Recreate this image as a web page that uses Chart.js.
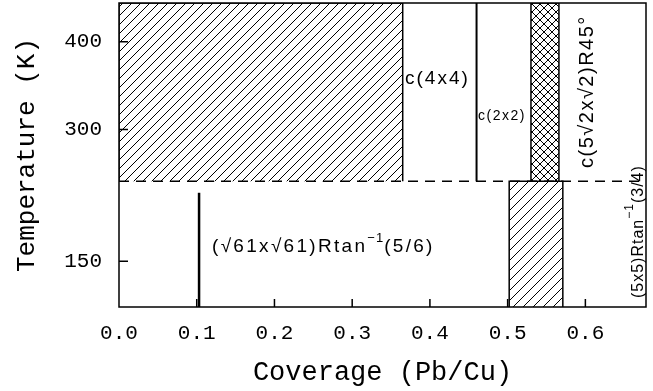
<!DOCTYPE html>
<html>
<head>
<meta charset="utf-8">
<script src="https://cdn.jsdelivr.net/npm/chart.js@4/dist/chart.umd.min.js"></script>
<style>
  html, body { margin: 0; padding: 0; background: #fff; }
  #wrap { width: 653px; height: 391px; }
</style>
</head>
<body>
<div id="wrap"><canvas id="phase"></canvas></div>
<script>
// axis ticks
const coverageTicks = [0, 0.1, 0.2, 0.3, 0.4, 0.5, 0.6];
const tempTicks = [150, 300, 400];
const coverageMax = 0.678;
const tempRange = [98, 444];

// phase boundaries
const boundaryT = 241;            // dashed line between the two temperature regimes
const hatchUpper = [0, 0.365];    // hatched region, high T
const c4x4Line = 0.46;            // c(4x4) line
const crossBand = [0.53, 0.566];  // c(5sqrt2 x sqrt2)R45 band
const hatchLower = [0.502, 0.571];// (5x5) region, low T
const root61Line = 0.103;         // (sqrt61 x sqrt61) line
const root61Top = 228;

function hatch(size, cross) {
  const c = document.createElement('canvas');
  c.width = size; c.height = size;
  const g = c.getContext('2d');
  g.strokeStyle = '#000';
  g.lineWidth = 1;
  g.beginPath();
  g.moveTo(0, size); g.lineTo(size, 0);
  g.moveTo(-1, 1); g.lineTo(1, -1);
  g.moveTo(size - 1, size + 1); g.lineTo(size + 1, size - 1);
  if (cross) {
    g.moveTo(0, 0); g.lineTo(size, size);
    g.moveTo(-1, size - 1); g.lineTo(1, size + 1);
    g.moveTo(size - 1, -1); g.lineTo(size + 1, 1);
  }
  g.stroke();
  return g.createPattern(c, 'repeat');
}

function rect(x0, x1, lo, hi) {
  return [{x: x0, y: lo}, {x: x0, y: hi}, {x: x1, y: hi}, {x: x1, y: lo}];
}

const base = { showLine: true, pointRadius: 0, borderColor: '#000', tension: 0 };

const datasets = [
  Object.assign({}, base, {
    data: rect(hatchUpper[0], hatchUpper[1], boundaryT, tempRange[1]),
    fill: {value: boundaryT}, backgroundColor: hatch(9, false), borderWidth: 1.5
  }),
  Object.assign({}, base, {
    data: rect(crossBand[0], crossBand[1], boundaryT, tempRange[1]),
    fill: {value: boundaryT}, backgroundColor: hatch(8, true), borderWidth: 1.5
  }),
  Object.assign({}, base, {
    data: rect(hatchLower[0], hatchLower[1], tempRange[0], boundaryT),
    fill: {value: tempRange[0]}, backgroundColor: hatch(10, false), borderWidth: 1.5
  }),
  Object.assign({}, base, {
    data: [{x: c4x4Line, y: boundaryT}, {x: c4x4Line, y: tempRange[1]}],
    fill: false, borderWidth: 2
  }),
  Object.assign({}, base, {
    data: [{x: root61Line, y: tempRange[0]}, {x: root61Line, y: root61Top}],
    fill: false, borderWidth: 2.5
  }),
  Object.assign({}, base, {
    data: [{x: 0, y: boundaryT}, {x: coverageMax, y: boundaryT}],
    fill: false, borderWidth: 1.5, borderDash: [10, 7]
  })
];

const sans = '"Liberation Sans", Arial, sans-serif';

function drawParts(ctx, parts, x, y) {
  for (const p of parts) {
    ctx.font = p.size + 'px ' + sans;
    ctx.letterSpacing = (p.ls || 0) + 'px';
    ctx.fillText(p.t, x, y + (p.dy || 0));
    x += ctx.measureText(p.t).width;
  }
}

const labels = {
  id: 'labels',
  afterDraw(chart) {
    const ctx = chart.ctx;
    const a = chart.chartArea;
    const xs = chart.scales.x, ys = chart.scales.y;
    ctx.save();
    ctx.fillStyle = '#000';
    ctx.strokeStyle = '#000';
    ctx.textBaseline = 'middle';
    ctx.textAlign = 'left';

    // frame
    ctx.lineWidth = 1.5;
    ctx.strokeRect(a.left, a.top, a.right - a.left, a.bottom - a.top);

    // inward ticks
    ctx.beginPath();
    coverageTicks.forEach(v => {
      if (v === 0) return;
      const px = xs.getPixelForValue(v);
      ctx.moveTo(px, a.bottom); ctx.lineTo(px, a.bottom - 8);
    });
    tempTicks.forEach(v => {
      const py = ys.getPixelForValue(v);
      ctx.moveTo(a.left, py); ctx.lineTo(a.left + 9, py);
    });
    ctx.stroke();

    // phase labels
    drawParts(ctx, [{t: 'c(4x4)', size: 19, ls: 2}], 405, 79);
    drawParts(ctx, [{t: 'c(2x2)', size: 14, ls: 1.5}], 478, 116);
    drawParts(ctx, [
      {t: '(\u221A61x\u221A61)Rtan', size: 19, ls: 2.3},
      {t: '\u22121', size: 13, ls: 1, dy: -9},
      {t: '(5/6)', size: 19, ls: 2.3}
    ], 212, 247);

    ctx.save();
    ctx.translate(587, 168);
    ctx.rotate(-Math.PI / 2);
    drawParts(ctx, [{t: 'c(5\u221A2x\u221A2)R45\u00B0', size: 20, ls: 1.5}], 0, 0);
    ctx.restore();

    ctx.save();
    ctx.translate(639, 298);
    ctx.rotate(-Math.PI / 2);
    drawParts(ctx, [
      {t: '(5x5)Rtan', size: 16, ls: 1},
      {t: '\u22121', size: 12, ls: 1, dy: -9},
      {t: '(3/4)', size: 16, ls: 1}
    ], 0, 0);
    ctx.restore();

    ctx.restore();
  }
};

Chart.defaults.font.family = '"Liberation Mono", "Courier New", monospace';
Chart.defaults.color = '#000';

new Chart(document.getElementById('phase'), {
  type: 'scatter',
  data: { datasets: datasets },
  options: {
    responsive: true,
    maintainAspectRatio: false,
    animation: false,
    layout: { padding: { top: 3, right: 7, left: 0, bottom: 0 } },
    plugins: { legend: { display: false }, tooltip: { enabled: false } },
    scales: {
      x: {
        type: 'linear',
        min: 0,
        max: coverageMax,
        grid: { display: false, drawTicks: false },
        border: { display: false },
        afterBuildTicks: s => { s.ticks = coverageTicks.map(v => ({value: v})); },
        afterFit: s => { s.height = 84; s.paddingLeft = 0; s.paddingRight = 0; },
        ticks: { font: { size: 21 }, padding: 14, maxRotation: 0, callback: v => Number(v).toFixed(1) },
        title: { display: true, text: 'Coverage (Pb/Cu)', font: { size: 27 }, padding: { top: 0, bottom: 2 } }
      },
      y: {
        type: 'linear',
        min: tempRange[0],
        max: tempRange[1],
        grid: { display: false, drawTicks: false },
        border: { display: false },
        afterBuildTicks: s => { s.ticks = tempTicks.map(v => ({value: v})); },
        afterFit: s => { s.width = 119; s.paddingTop = 0; s.paddingBottom = 0; },
        ticks: { font: { size: 21 }, padding: 17 },
        title: { display: true, text: 'Temperature (K)', font: { size: 26 }, padding: { top: 12, bottom: 0 } }
      }
    }
  },
  plugins: [labels]
});
</script>
</body>
</html>
